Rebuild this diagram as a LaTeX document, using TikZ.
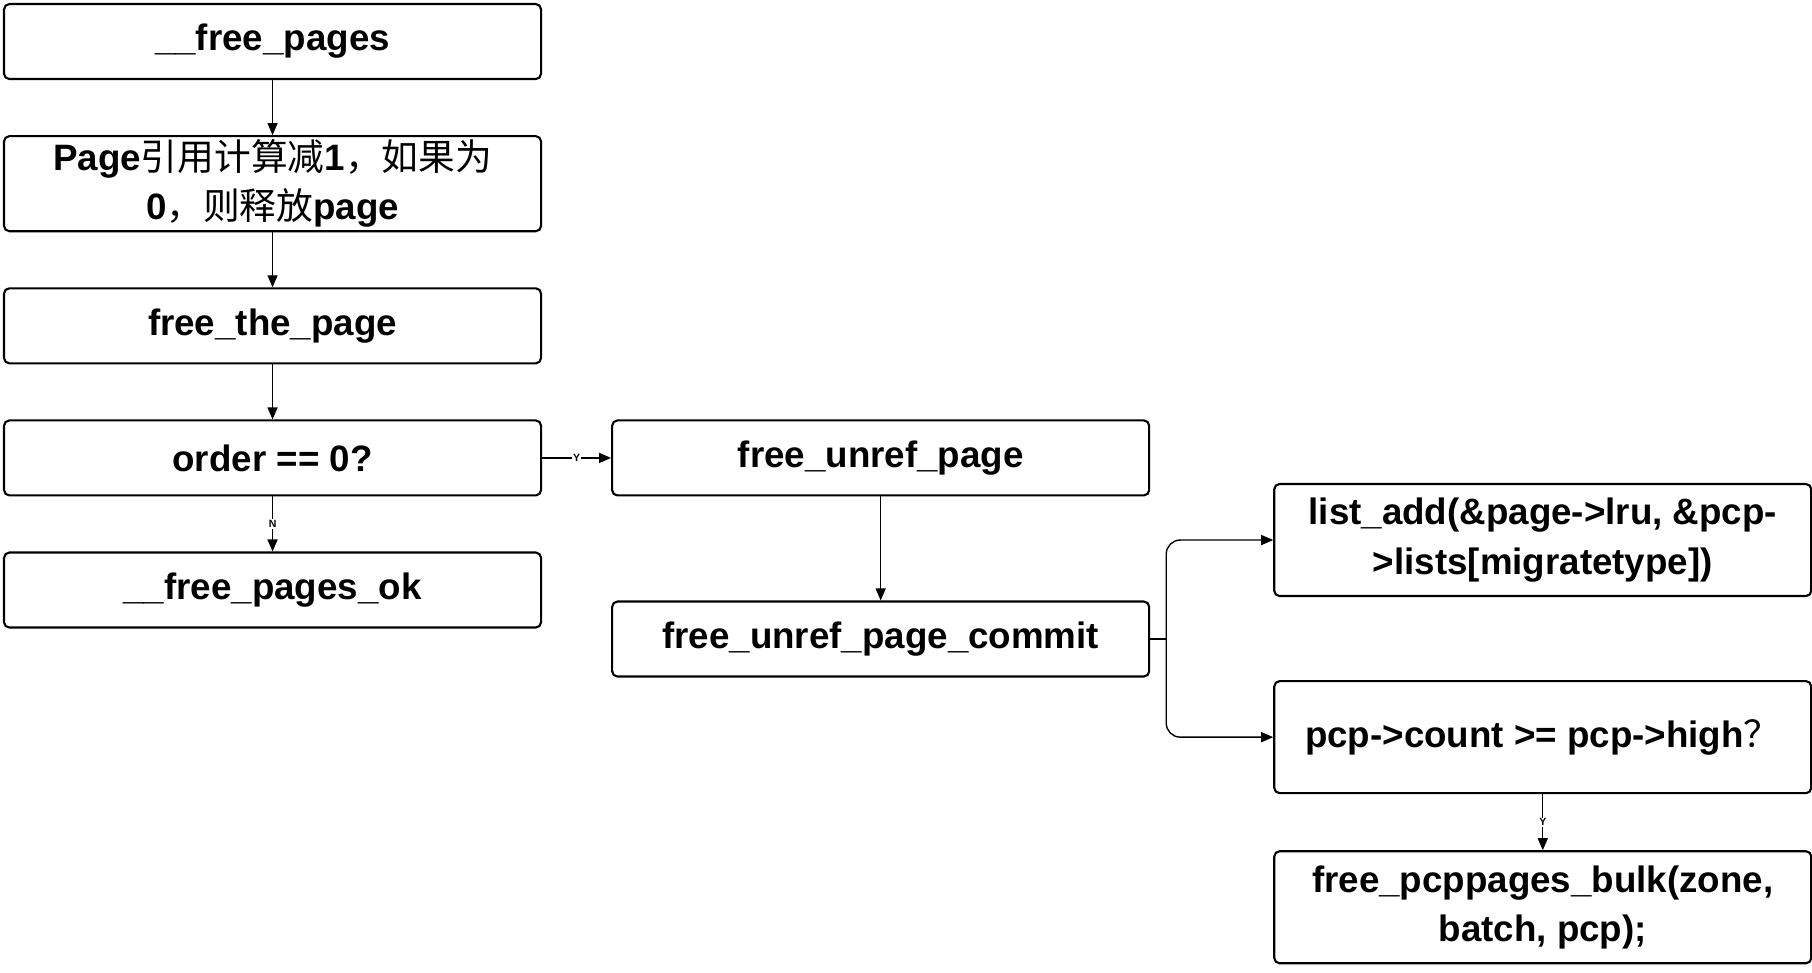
\documentclass[tikz,border=0pt]{standalone}
\usepackage{fontspec}
\setmainfont{Liberation Sans}
\newfontfamily\cjk{Noto Sans CJK SC}
\usepackage{tikz}
\usetikzlibrary{arrows.meta, positioning}
\newcommand{\zh}[1]{{\cjk\mdseries #1}}

\begin{document}
\begin{tikzpicture}[
    node distance=1.1cm and 1.38cm,
    box/.style={rectangle, draw, rounded corners=3pt, line width=1.2pt, inner ysep=2pt, minimum height=1.5cm, minimum width=10.74cm, align=center, font=\bfseries\fontsize{20.9}{28}\selectfont},
    tall/.style={minimum height=2.24cm},
    arr/.style={-{Triangle[length=2.4mm, width=2mm]}, line width=0.8pt},
    lbl/.style={font=\bfseries\fontsize{6}{6}\selectfont, fill=white, inner sep=0.6pt},
]
    \path[use as bounding box] (0,0) rectangle (36.24,-19.46);

    \node[box, anchor=north west] (fp) at (0.06,-0.06) {\_\_free\_pages};
    \node[box, below=of fp, minimum height=1.84cm] (dec) {Page\zh{引用计算减}1\zh{，如果为}\\0\zh{，则释放}page};
    \node[box, below=of dec] (ftp) {free\_the\_page};
    \node[box, below=of ftp] (ord) {order == 0?};
    \node[box, below=of ord] (fpok) {\_\_free\_pages\_ok};
    \node[box, right=of ord] (fup) {free\_unref\_page};
    \node[box, below=2.08cm of fup] (fupc) {free\_unref\_page\_commit};
    \node[box, tall, right=2.46cm of fupc, yshift=1.98cm] (ladd) {list\_add(\&page->lru, \&pcp-\\>lists[migratetype])};
    \node[box, tall, below=1.66cm of ladd] (cnt) {pcp->count >= pcp->high\zh{？}};
    \node[box, tall, below=1.12cm of cnt] (bulk) {free\_pcppages\_bulk(zone,\\batch, pcp);};
    \coordinate[right=0.32cm of fupc] (split);

    \draw[arr] (fp) -- (dec);
    \draw[arr] (dec) -- (ftp);
    \draw[arr] (ftp) -- (ord);
    \draw[arr] (ord) -- node[lbl] {N} (fpok);
    \draw[arr] (ord) -- node[lbl] {Y} (fup);
    \draw[arr] (fup) -- (fupc);
    \draw[line width=0.8pt] (fupc.east) -- (split);
    \draw[arr, rounded corners=8pt] (split) |- (ladd.west);
    \draw[arr, rounded corners=8pt] (split) |- (cnt.west);
    \draw[arr] (cnt) -- node[lbl] {Y} (bulk);
\end{tikzpicture}
\end{document}
